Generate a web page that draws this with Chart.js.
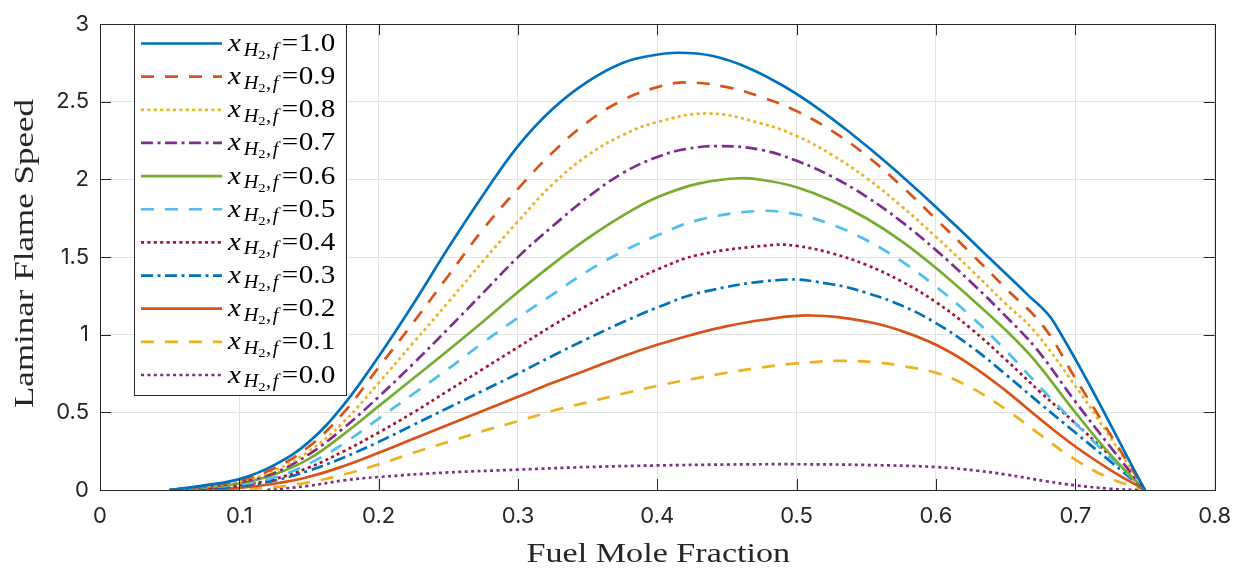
<!DOCTYPE html>
<html><head><meta charset="utf-8">
<script src="https://cdn.jsdelivr.net/npm/chart.js@4/dist/chart.umd.min.js"></script>
<style>html,body{margin:0;padding:0;background:#fff;}canvas{display:block;}</style>
</head><body>
<canvas id="c" width="1244" height="569"></canvas>
<script>
// ---- data ----
const legendValues = ['1.0','0.9','0.8','0.7','0.6','0.5','0.4','0.3','0.2','0.1','0.0'];
const xTickLabels = ['0','0.1','0.2','0.3','0.4','0.5','0.6','0.7','0.8'];
const yTickLabels = ['0','0.5','1','1.5','2','2.5','3'];

const xH10 = [0.05,0.075,0.1,0.125,0.15,0.175,0.2,0.225,0.25,0.275,0.3,0.325,0.35,0.375,0.395,0.415,0.44,0.465,0.49,0.515,0.54,0.565,0.59,0.615,0.64,0.665,0.685,0.75];
const yH10 = [0,0.03,0.07,0.16,0.31,0.55,0.86,1.2,1.56,1.9,2.215,2.455,2.63,2.75,2.797,2.816,2.795,2.72,2.605,2.46,2.29,2.105,1.905,1.695,1.48,1.265,1.076,0];

const xH09 = [0.05,0.075,0.1,0.125,0.15,0.175,0.2,0.225,0.25,0.275,0.3,0.325,0.35,0.375,0.4,0.42,0.45,0.475,0.5,0.525,0.55,0.575,0.6,0.625,0.65,0.677,0.7,0.725,0.75];
const yH09 = [0,0.027,0.062,0.14,0.28,0.5,0.79,1.08,1.38,1.68,1.94,2.175,2.37,2.51,2.595,2.625,2.595,2.53,2.44,2.315,2.155,1.96,1.745,1.525,1.3,1.055,0.72,0.36,0];

const xH08 = [0.05,0.075,0.1,0.125,0.15,0.175,0.2,0.225,0.25,0.275,0.3,0.325,0.35,0.375,0.4,0.437,0.475,0.5,0.525,0.55,0.575,0.6,0.625,0.65,0.67,0.7,0.725,0.75];
const yH08 = [0,0.024,0.055,0.125,0.25,0.44,0.69,0.95,1.21,1.475,1.73,1.97,2.155,2.285,2.37,2.425,2.36,2.28,2.16,2.01,1.83,1.63,1.42,1.2,1.03,0.67,0.34,0];

const xH07 = [0.05,0.075,0.1,0.125,0.15,0.175,0.2,0.225,0.25,0.275,0.3,0.325,0.35,0.375,0.4,0.42,0.445,0.475,0.5,0.525,0.55,0.575,0.6,0.625,0.65,0.672,0.7,0.725,0.75];
const yH07 = [0,0.021,0.05,0.11,0.23,0.4,0.6,0.815,1.04,1.27,1.5,1.7,1.885,2.04,2.145,2.195,2.215,2.19,2.12,2.02,1.89,1.73,1.545,1.34,1.12,0.91,0.57,0.28,0];

const xH06 = [0.05,0.075,0.1,0.125,0.15,0.175,0.2,0.225,0.25,0.275,0.3,0.325,0.35,0.375,0.4,0.43,0.46,0.48,0.5,0.525,0.55,0.575,0.6,0.625,0.65,0.67,0.7,0.725,0.75];
const yH06 = [0,0.018,0.042,0.1,0.2,0.36,0.54,0.72,0.9,1.085,1.275,1.455,1.62,1.765,1.885,1.975,2.008,1.99,1.95,1.865,1.75,1.605,1.43,1.235,1.03,0.844,0.5,0.23,0];

const xH05 = [0.05,0.075,0.1,0.125,0.15,0.175,0.2,0.225,0.25,0.275,0.3,0.325,0.35,0.375,0.4,0.43,0.473,0.5,0.525,0.55,0.575,0.6,0.625,0.65,0.675,0.7,0.725,0.75];
const yH05 = [0,0.015,0.035,0.08,0.17,0.3,0.46,0.62,0.78,0.95,1.11,1.26,1.41,1.535,1.64,1.74,1.797,1.775,1.71,1.61,1.475,1.31,1.12,0.9,0.66,0.43,0.21,0];

const xH04 = [0.05,0.075,0.1,0.125,0.15,0.175,0.2,0.225,0.25,0.275,0.3,0.325,0.35,0.375,0.4,0.43,0.483,0.5,0.525,0.55,0.575,0.6,0.625,0.65,0.675,0.7,0.725,0.75];
const yH04 = [0,0.012,0.03,0.07,0.145,0.25,0.37,0.5,0.64,0.78,0.92,1.06,1.19,1.31,1.42,1.515,1.578,1.572,1.525,1.45,1.345,1.21,1.04,0.84,0.63,0.43,0.22,0];

const xH03 = [0.05,0.075,0.1,0.125,0.15,0.175,0.2,0.225,0.25,0.275,0.3,0.325,0.35,0.375,0.4,0.43,0.49,0.525,0.55,0.575,0.6,0.625,0.65,0.675,0.7,0.725,0.75];
const yH03 = [0,0.01,0.025,0.06,0.125,0.21,0.31,0.42,0.53,0.64,0.75,0.865,0.975,1.08,1.175,1.27,1.354,1.325,1.27,1.19,1.075,0.925,0.745,0.555,0.37,0.185,0];

const xH02 = [0.06,0.075,0.1,0.125,0.15,0.175,0.2,0.225,0.25,0.275,0.3,0.325,0.35,0.375,0.4,0.425,0.45,0.475,0.51,0.55,0.575,0.6,0.625,0.65,0.675,0.7,0.725,0.75];
const yH02 = [0,0.004,0.014,0.04,0.085,0.155,0.24,0.33,0.42,0.51,0.6,0.69,0.775,0.86,0.935,1.0,1.055,1.095,1.124,1.085,1.025,0.935,0.805,0.64,0.455,0.28,0.13,0];

const xH01 = [0.09,0.1,0.125,0.15,0.175,0.2,0.225,0.25,0.275,0.3,0.325,0.35,0.375,0.4,0.425,0.45,0.475,0.5,0.53,0.56,0.575,0.6,0.625,0.65,0.675,0.7,0.725,0.75];
const yH01 = [0,0.004,0.018,0.05,0.1,0.165,0.24,0.31,0.38,0.443,0.51,0.565,0.62,0.671,0.715,0.755,0.79,0.815,0.832,0.82,0.8,0.755,0.66,0.52,0.355,0.195,0.075,0];

const xH00 = [0.12,0.15,0.175,0.2,0.25,0.3,0.35,0.4,0.45,0.5,0.55,0.6,0.63,0.65,0.68,0.7,0.725,0.745];
const yH00 = [0,0.027,0.062,0.084,0.113,0.131,0.148,0.158,0.164,0.166,0.161,0.148,0.124,0.1,0.055,0.03,0.008,0];

const seriesX = [xH10,xH09,xH08,xH07,xH06,xH05,xH04,xH03,xH02,xH01,xH00];
const seriesY = [yH10,yH09,yH08,yH07,yH06,yH05,yH04,yH03,yH02,yH01,yH00];

// ---- styles ----
const colors = ['#0072BD','#D95319','#EDB120','#7E2F8E','#77AC30','#4DBEEE','#A2142F','#0072BD','#D95319','#EDB120','#7E2F8E'];
const DASH = {solid: [], dashed: [13, 11], dotted: [3, 3.4], dashdot: [12, 4.5, 3, 4.5]};
const styles = ['solid','dashed','dotted','dashdot','solid','dashed','dotted','dashdot','solid','dashed','dotted'];

const datasets = seriesX.map((xs, i) => ({
  label: 'x_{H2,f}=' + legendValues[i],
  data: xs.map((x, j) => ({x: x, y: seriesY[i][j]})),
  borderColor: colors[i],
  borderWidth: 2.7,
  borderDash: DASH[styles[i]],
  borderCapStyle: 'butt',
  borderJoinStyle: 'round',
  fill: false,
  pointRadius: 0,
  tension: 0.4
}));

const INK = '#262626';

const framePlugin = {
  id: 'frame',
  afterDatasetsDraw(chart) {
    const {ctx, chartArea: a, scales} = chart;
    ctx.save();
    ctx.strokeStyle = INK;
    ctx.lineWidth = 1;
    const L = 11;
    ctx.beginPath();
    scales.x.ticks.forEach(t => {
      const px = Math.round(scales.x.getPixelForValue(t.value)) + 0.5;
      ctx.moveTo(px, a.bottom); ctx.lineTo(px, a.bottom - L);
      ctx.moveTo(px, a.top); ctx.lineTo(px, a.top + L);
    });
    scales.y.ticks.forEach(t => {
      const py = Math.round(scales.y.getPixelForValue(t.value)) + 0.5;
      ctx.moveTo(a.left, py); ctx.lineTo(a.left + L, py);
      ctx.moveTo(a.right, py); ctx.lineTo(a.right - L, py);
    });
    ctx.stroke();
    ctx.strokeRect(Math.round(a.left) + 0.5, Math.round(a.top) + 0.5, Math.round(a.right - a.left), Math.round(a.bottom - a.top));
    ctx.restore();
  },
  afterDraw(chart) {
    const {ctx, chartArea: a} = chart;
    ctx.save();
    ctx.fillStyle = INK;
    ctx.font = '28px "Liberation Serif"';
    ctx.textAlign = 'center';
    ctx.textBaseline = 'alphabetic';
    const stretch = 1.22;
    ctx.save();
    ctx.translate((a.left + a.right) / 2 + 1, 561.5);
    ctx.scale(stretch, 1);
    ctx.fillText('Fuel Mole Fraction', 0, 0);
    ctx.restore();
    ctx.save();
    ctx.translate(33, 253.5);
    ctx.rotate(-Math.PI / 2);
    ctx.scale(stretch + 0.03, 1);
    ctx.fillText('Laminar Flame Speed', 0, 0);
    ctx.restore();

    // legend
    const bx = 134.5, by = 24.5, bw = 212, bh = 371;
    ctx.fillStyle = '#fff';
    ctx.fillRect(bx, by, bw, bh);
    ctx.strokeStyle = INK;
    ctx.lineWidth = 1;
    ctx.strokeRect(bx, by, bw, bh);
    chart.data.datasets.forEach((ds, i) => {
      const cy = 43.5 + i * 33.15;
      ctx.save();
      ctx.strokeStyle = ds.borderColor;
      ctx.lineWidth = ds.borderWidth;
      ctx.setLineDash(ds.borderDash);
      ctx.lineCap = 'butt';
      ctx.beginPath();
      ctx.moveTo(141, cy); ctx.lineTo(222, cy);
      ctx.stroke();
      ctx.restore();
      ctx.save();
      ctx.translate(228, cy + 7.5);
      ctx.scale(1.12, 1);
      ctx.fillStyle = '#000';
      ctx.textAlign = 'left';
      let x = 0;
      ctx.font = 'italic 26px "Liberation Serif"';
      ctx.fillText('x', x, 0); x += ctx.measureText('x').width + 2.5;
      ctx.font = 'italic 18px "Liberation Serif"';
      ctx.fillText('H', x, 4.5); x += ctx.measureText('H').width;
      ctx.font = '13px "Liberation Serif"';
      ctx.fillText('2', x, 8); x += ctx.measureText('2').width + 0.5;
      ctx.font = 'italic 18px "Liberation Serif"';
      ctx.fillText(',', x, 4.5); x += ctx.measureText(',').width + 1.5;
      ctx.fillText('f', x, 4.5); x += ctx.measureText('f').width + 3;
      ctx.font = '26px "Liberation Serif"';
      ctx.fillText('=', x, 0); x += ctx.measureText('=').width + 0.5;
      ctx.fillText(legendValues[i], x, 0);
      ctx.restore();
    });
    ctx.restore();
  }
};

new Chart(document.getElementById('c'), {
  type: 'line',
  data: {datasets},
  options: {
    responsive: false,
    animation: false,
    events: [],
    layout: {padding: {top: 17, right: 29, left: 0, bottom: 0}},
    plugins: {legend: {display: false}, tooltip: {enabled: false}, title: {display: false}},
    scales: {
      x: {
        type: 'linear', min: 0, max: 0.8,
        afterFit: s => { s.height = 79; },
        border: {display: false},
        grid: {color: '#e2e2e2', lineWidth: 1, drawTicks: false},
        ticks: {stepSize: 0.1, padding: 13, color: INK, font: {family: 'Inter', size: 22},
          maxRotation: 0, autoSkip: false,
          callback: (v, i) => xTickLabels[i]}
      },
      y: {
        type: 'linear', min: 0, max: 3,
        afterFit: s => { s.width = 100; },
        border: {display: false},
        grid: {color: '#e2e2e2', lineWidth: 1, drawTicks: false},
        ticks: {stepSize: 0.5, padding: 11, color: INK, font: {family: 'Inter', size: 22},
          autoSkip: false,
          callback: (v, i) => yTickLabels[i]}
      }
    }
  },
  plugins: [framePlugin]
});
</script>
</body></html>
